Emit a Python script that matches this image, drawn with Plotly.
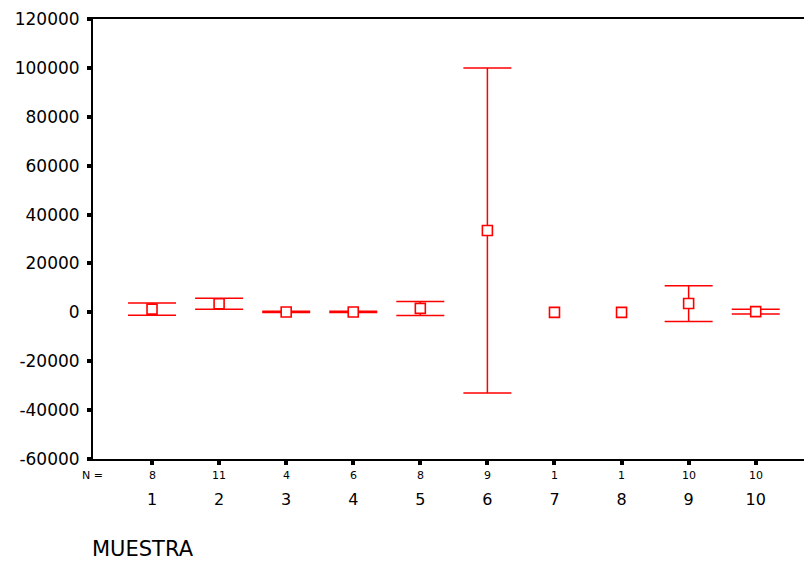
import plotly.graph_objects as go

categories = [1, 2, 3, 4, 5, 6, 7, 8, 9, 10]
means = [1300, 3500, 150, 150, 1600, 33500, 0, 0, 3600, 300]
errors = [2500, 2250, 250, 250, 2850, 66500, 0, 0, 7300, 1000]
n_counts = [8, 11, 4, 6, 8, 9, 1, 1, 10, 10]
y_ticks = [-60000, -40000, -20000, 0, 20000, 40000, 60000, 80000, 100000, 120000]

RED = "#ff0000"
FONT = "DejaVu Sans, Liberation Sans, Arial, sans-serif"

# groups with N > 1 get error bars; single observations have none
with_err = [i for i, n in enumerate(n_counts) if n > 1]
no_err = [i for i, n in enumerate(n_counts) if n <= 1]

marker = dict(symbol="square", size=10, color="white",
              line=dict(color=RED, width=1.6))

fig = go.Figure()
fig.add_trace(go.Scatter(
    x=[categories[i] for i in with_err], y=[means[i] for i in with_err],
    mode="markers", marker=marker,
    error_y=dict(type="data", array=[errors[i] for i in with_err],
                 visible=True, color=RED, thickness=1.5, width=24),
    showlegend=False, cliponaxis=False,
))
fig.add_trace(go.Scatter(
    x=[categories[i] for i in no_err], y=[means[i] for i in no_err],
    mode="markers", marker=marker, showlegend=False, cliponaxis=False,
))

for c, n in zip(categories, n_counts):
    fig.add_annotation(x=c, y=0, xref="x", yref="paper", yanchor="middle",
                       yshift=-16, text=str(n), showarrow=False,
                       font=dict(family=FONT, size=11, color="black"))
fig.add_annotation(x=0, y=0, xref="paper", yref="paper", xanchor="right",
                   yanchor="middle", yshift=-16, xshift=12, text="N =",
                   showarrow=False,
                   font=dict(family=FONT, size=11, color="black"))
fig.add_annotation(x=0, y=0, xref="paper", yref="paper", xanchor="left",
                   yanchor="middle", xshift=-3, yshift=-90, text="MUESTRA",
                   showarrow=False,
                   font=dict(family=FONT, size=21, color="black"))

fig.update_layout(
    width=804, height=561,
    margin=dict(l=93, r=0, t=19, b=102),
    paper_bgcolor="white", plot_bgcolor="white",
    xaxis=dict(range=[0.12, 10.72], tickvals=categories,
               ticktext=[str(c) for c in categories],
               ticks="outside", ticklen=4, tickwidth=4, tickcolor="black",
               ticklabelstandoff=21,
               tickfont=dict(family=FONT, size=16, color="black"),
               showline=True, linecolor="black", linewidth=1.5, mirror=True,
               showgrid=False, zeroline=False),
    yaxis=dict(range=[-60000, 120000], tickvals=y_ticks,
               ticktext=[str(v) for v in y_ticks],
               ticks="outside", ticklen=4, tickwidth=4, tickcolor="black",
               ticklabelstandoff=4,
               tickfont=dict(family=FONT, size=17, color="black"),
               showline=True, linecolor="black", linewidth=2,
               showgrid=False, zeroline=False),
)

fig.write_html("out.html")
